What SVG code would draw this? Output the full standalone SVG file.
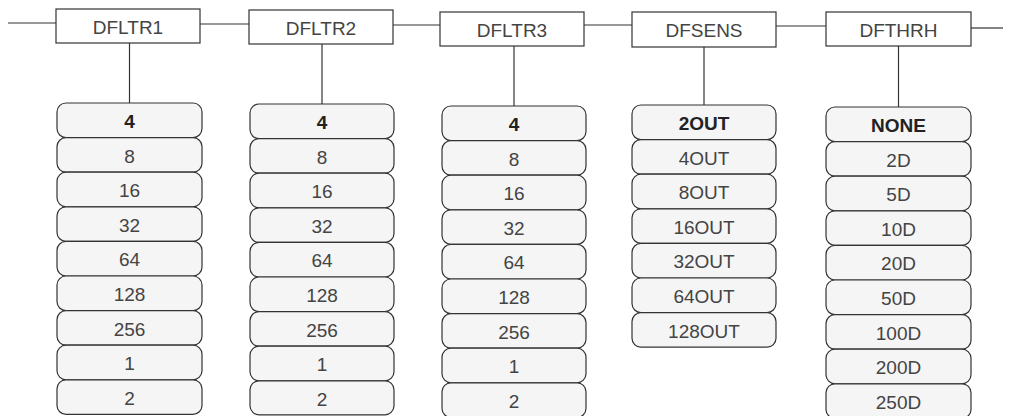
<svg xmlns="http://www.w3.org/2000/svg" width="1010" height="416" viewBox="0 0 1010 416">
<style>
.hdr rect{fill:#fff;stroke:#333;stroke-width:1.2}
.it rect{fill:#f5f5f5;stroke:#333;stroke-width:1.2}
text{font-family:"Liberation Sans",Arial,Helvetica,sans-serif;font-size:19px;fill:#444;text-anchor:middle}
.b{font-weight:bold;fill:#222}
#connectors line{stroke:#333;stroke-width:1.2}
</style>
<g id="connectors">
<line x1="8" y1="23" x2="56" y2="23"/>
<line x1="200" y1="24" x2="249" y2="24"/>
<line x1="393" y1="25" x2="440" y2="25"/>
<line x1="584" y1="25" x2="632" y2="25"/>
<line x1="776" y1="26" x2="826" y2="26"/>
<line x1="971" y1="28" x2="1003" y2="28"/>
<line x1="129.5" y1="43" x2="129.5" y2="103"/>
<line x1="322" y1="44" x2="322" y2="104"/>
<line x1="514" y1="46" x2="514" y2="106"/>
<line x1="704" y1="47" x2="704" y2="105"/>
<line x1="898.5" y1="46" x2="898.5" y2="107"/>
</g>
<g id="DFLTR1" class="hdr"><rect x="56" y="9" width="144" height="34"/><text x="128" y="34">DFLTR1</text></g>
<g id="DFLTR2" class="hdr"><rect x="249" y="10" width="144" height="34"/><text x="321" y="35">DFLTR2</text></g>
<g id="DFLTR3" class="hdr"><rect x="440" y="12" width="144" height="34"/><text x="512" y="37">DFLTR3</text></g>
<g id="DFSENS" class="hdr"><rect x="632" y="12" width="144" height="35"/><text x="704" y="37">DFSENS</text></g>
<g id="DFTHRH" class="hdr"><rect x="826" y="12" width="145" height="34"/><text x="898.5" y="37">DFTHRH</text></g>
<g id="col1">
<g id="c1-4" class="it"><rect x="57" y="103" width="145" height="34.6" rx="9"/><text class="b" x="129.5" y="128">4</text></g>
<g id="c1-8" class="it"><rect x="57" y="137.6" width="145" height="34.6" rx="9"/><text x="129.5" y="162.6">8</text></g>
<g id="c1-16" class="it"><rect x="57" y="172.2" width="145" height="34.6" rx="9"/><text x="129.5" y="197.2">16</text></g>
<g id="c1-32" class="it"><rect x="57" y="206.8" width="145" height="34.6" rx="9"/><text x="129.5" y="231.8">32</text></g>
<g id="c1-64" class="it"><rect x="57" y="241.4" width="145" height="34.6" rx="9"/><text x="129.5" y="266.4">64</text></g>
<g id="c1-128" class="it"><rect x="57" y="276" width="145" height="34.6" rx="9"/><text x="129.5" y="301">128</text></g>
<g id="c1-256" class="it"><rect x="57" y="310.6" width="145" height="34.6" rx="9"/><text x="129.5" y="335.6">256</text></g>
<g id="c1-1" class="it"><rect x="57" y="345.2" width="145" height="34.6" rx="9"/><text x="129.5" y="370.2">1</text></g>
<g id="c1-2" class="it"><rect x="57" y="379.8" width="145" height="34.6" rx="9"/><text x="129.5" y="404.8">2</text></g>
</g>
<g id="col2">
<g id="c2-4" class="it"><rect x="250" y="104" width="144" height="34.6" rx="9"/><text class="b" x="322" y="129">4</text></g>
<g id="c2-8" class="it"><rect x="250" y="138.6" width="144" height="34.6" rx="9"/><text x="322" y="163.6">8</text></g>
<g id="c2-16" class="it"><rect x="250" y="173.2" width="144" height="34.6" rx="9"/><text x="322" y="198.2">16</text></g>
<g id="c2-32" class="it"><rect x="250" y="207.8" width="144" height="34.6" rx="9"/><text x="322" y="232.8">32</text></g>
<g id="c2-64" class="it"><rect x="250" y="242.4" width="144" height="34.6" rx="9"/><text x="322" y="267.4">64</text></g>
<g id="c2-128" class="it"><rect x="250" y="277" width="144" height="34.6" rx="9"/><text x="322" y="302">128</text></g>
<g id="c2-256" class="it"><rect x="250" y="311.6" width="144" height="34.6" rx="9"/><text x="322" y="336.6">256</text></g>
<g id="c2-1" class="it"><rect x="250" y="346.2" width="144" height="34.6" rx="9"/><text x="322" y="371.2">1</text></g>
<g id="c2-2" class="it"><rect x="250" y="380.8" width="144" height="34" rx="9"/><text x="322" y="405.5">2</text></g>
</g>
<g id="col3">
<g id="c3-4" class="it"><rect x="442" y="106" width="144" height="34.6" rx="9"/><text class="b" x="514" y="131">4</text></g>
<g id="c3-8" class="it"><rect x="442" y="140.6" width="144" height="34.6" rx="9"/><text x="514" y="165.6">8</text></g>
<g id="c3-16" class="it"><rect x="442" y="175.2" width="144" height="34.6" rx="9"/><text x="514" y="200.2">16</text></g>
<g id="c3-32" class="it"><rect x="442" y="209.8" width="144" height="34.6" rx="9"/><text x="514" y="234.8">32</text></g>
<g id="c3-64" class="it"><rect x="442" y="244.4" width="144" height="34.6" rx="9"/><text x="514" y="269.4">64</text></g>
<g id="c3-128" class="it"><rect x="442" y="279" width="144" height="34.6" rx="9"/><text x="514" y="304">128</text></g>
<g id="c3-256" class="it"><rect x="442" y="313.6" width="144" height="34.6" rx="9"/><text x="514" y="338.6">256</text></g>
<g id="c3-1" class="it"><rect x="442" y="348.2" width="144" height="34.6" rx="9"/><text x="514" y="373.2">1</text></g>
<g id="c3-2" class="it"><rect x="442" y="382.8" width="144" height="34.6" rx="9"/><text x="514" y="407.8">2</text></g>
</g>
<g id="col4">
<g id="c4-2OUT" class="it"><rect x="632" y="105" width="144" height="34.6" rx="9"/><text class="b" x="704" y="130">2OUT</text></g>
<g id="c4-4OUT" class="it"><rect x="632" y="139.6" width="144" height="34.6" rx="9"/><text x="704" y="164.6">4OUT</text></g>
<g id="c4-8OUT" class="it"><rect x="632" y="174.2" width="144" height="34.6" rx="9"/><text x="704" y="199.2">8OUT</text></g>
<g id="c4-16OUT" class="it"><rect x="632" y="208.8" width="144" height="34.6" rx="9"/><text x="704" y="233.8">16OUT</text></g>
<g id="c4-32OUT" class="it"><rect x="632" y="243.4" width="144" height="34.6" rx="9"/><text x="704" y="268.4">32OUT</text></g>
<g id="c4-64OUT" class="it"><rect x="632" y="278" width="144" height="34.6" rx="9"/><text x="704" y="303">64OUT</text></g>
<g id="c4-128OUT" class="it"><rect x="632" y="312.6" width="144" height="34.6" rx="9"/><text x="704" y="337.6">128OUT</text></g>
</g>
<g id="col5">
<g id="c5-NONE" class="it"><rect x="826" y="107" width="145" height="34.6" rx="9"/><text class="b" x="898.5" y="132">NONE</text></g>
<g id="c5-2D" class="it"><rect x="826" y="141.6" width="145" height="34.6" rx="9"/><text x="898.5" y="166.6">2D</text></g>
<g id="c5-5D" class="it"><rect x="826" y="176.2" width="145" height="34.6" rx="9"/><text x="898.5" y="201.2">5D</text></g>
<g id="c5-10D" class="it"><rect x="826" y="210.8" width="145" height="34.6" rx="9"/><text x="898.5" y="235.8">10D</text></g>
<g id="c5-20D" class="it"><rect x="826" y="245.4" width="145" height="34.6" rx="9"/><text x="898.5" y="270.4">20D</text></g>
<g id="c5-50D" class="it"><rect x="826" y="280" width="145" height="34.6" rx="9"/><text x="898.5" y="305">50D</text></g>
<g id="c5-100D" class="it"><rect x="826" y="314.6" width="145" height="34.6" rx="9"/><text x="898.5" y="339.6">100D</text></g>
<g id="c5-200D" class="it"><rect x="826" y="349.2" width="145" height="34.6" rx="9"/><text x="898.5" y="374.2">200D</text></g>
<g id="c5-250D" class="it"><rect x="826" y="383.8" width="145" height="34.6" rx="9"/><text x="898.5" y="408.8">250D</text></g>
</g>
</svg>
